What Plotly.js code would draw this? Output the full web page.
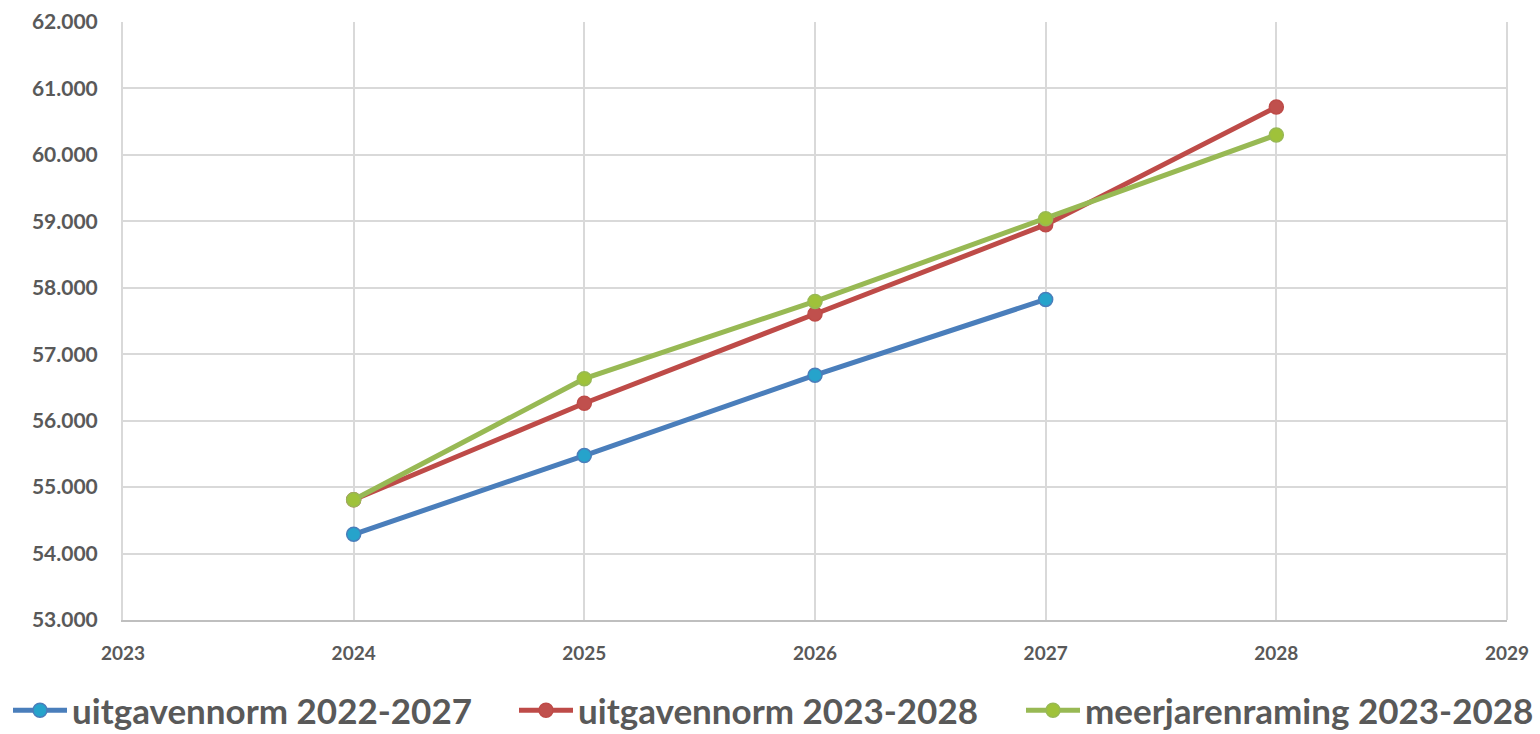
<!DOCTYPE html>
<html>
<head>
<meta charset="utf-8">
<script src="https://cdn.plot.ly/plotly-3.0.1.min.js"></script>
<style>html,body{margin:0;padding:0;background:#fff;}#chart{width:1540px;height:734px;}</style>
</head>
<body>
<div id="chart"></div>
<script>
const years = [2024, 2025, 2026, 2027, 2028];
const norm2022 = [54290, 55475, 56685, 57825];
const norm2023 = [54810, 56262, 57605, 58950, 60720];
const raming2023 = [54810, 56632, 57795, 59040, 60300];
const seriesNames = ['uitgavennorm 2022-2027', 'uitgavennorm 2023-2028', 'meerjarenraming 2023-2028'];
const yTicks = [53000, 54000, 55000, 56000, 57000, 58000, 59000, 60000, 61000, 62000];
const xTicks = [2023, 2024, 2025, 2026, 2027, 2028, 2029];

const fontFam = 'Lato, "Open Sans", sans-serif';
function tr(y, name, lineCol, mFill, mLine, lg) {
  return {
    x: years.slice(0, y.length), y: y, name: name, type: 'scatter', mode: 'lines+markers',
    legend: lg,
    line: {color: lineCol, width: 5},
    marker: {size: 14, color: mFill, line: {color: mLine, width: 1.5}}
  };
}
const data = [
  tr(norm2022, seriesNames[0], '#4a7ebb', '#26a3cb', '#4a7ebb', 'legend'),
  tr(norm2023, seriesNames[1], '#be4b48', '#c0504d', '#be4b48', 'legend2'),
  tr(raming2023, seriesNames[2], '#98b954', '#9fc23a', '#98b954', 'legend3')
];
function lgd(xpx) {
  return {orientation: 'h', xref: 'container', yref: 'container', x: xpx / 1540, xanchor: 'left',
    y: 0.032, yanchor: 'middle', bgcolor: 'rgba(0,0,0,0)',
    font: {size: 35, family: fontFam, color: '#595959', weight: 'bold'}, itemwidth: 54};
}
const layout = {
  width: 1540, height: 734,
  margin: {l: 123, r: 33, t: 22, b: 114},
  paper_bgcolor: '#fff', plot_bgcolor: '#fff',
  separators: ',.',
  font: {family: fontFam, color: '#595959'},
  showlegend: true,
  legend: lgd(8), legend2: lgd(514), legend3: lgd(1021),
  xaxis: {range: [2023, 2029], tickvals: xTicks, ticktext: xTicks.map(String),
    showgrid: true, gridcolor: '#d9d9d9', gridwidth: 2,
    showline: true, linecolor: '#bfbfbf', linewidth: 2, mirror: false,
    ticks: '', ticklabelstandoff: 15, zeroline: false,
    tickfont: {size: 19, family: fontFam, color: '#595959', weight: 'bold'}},
  yaxis: {range: [53000, 62000], tickvals: yTicks, tickformat: ',d',
    showgrid: true, gridcolor: '#d9d9d9', gridwidth: 2,
    showline: true, linecolor: '#d9d9d9', linewidth: 2, zeroline: false,
    ticks: '', ticklabelstandoff: 19,
    tickfont: {size: 21, family: fontFam, color: '#595959', weight: 'bold'}},
  shapes: [{type: 'line', xref: 'paper', yref: 'paper', x0: 1, x1: 1, y0: 0, y1: 1, line: {color: '#d9d9d9', width: 2}}]
};
Plotly.newPlot('chart', data, layout, {displayModeBar: false, staticPlot: true});
</script>
</body>
</html>
